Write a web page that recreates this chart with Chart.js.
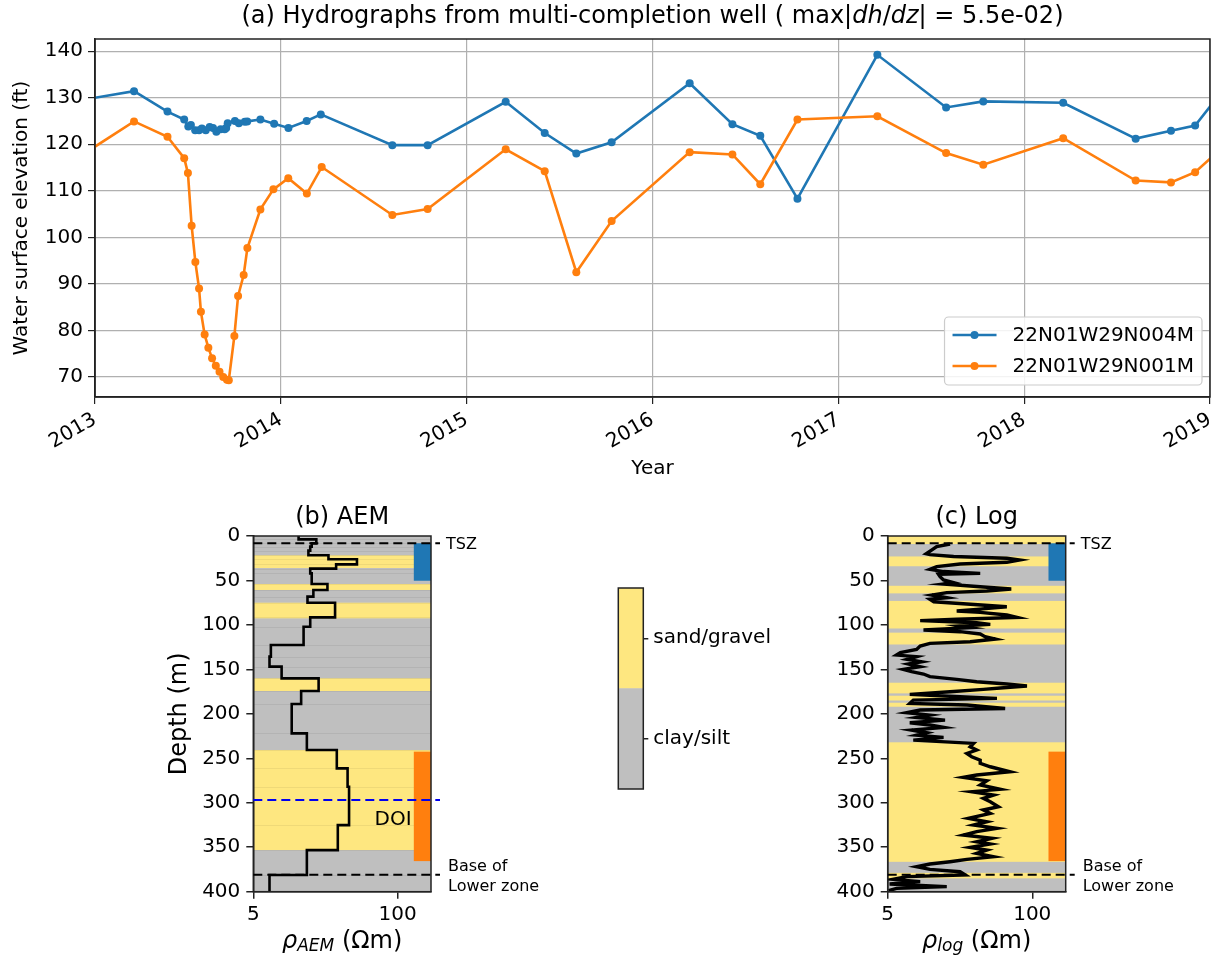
<!DOCTYPE html>
<html lang="en">
<head>
<meta charset="UTF-8">
<title>Hydrographs and well logs</title>
<script src="https://cdn.jsdelivr.net/npm/chart.js"></script>
<style>
    body { margin: 0; background: #fff; }
    .wrap { position: relative; width: 1226px; height: 960px; overflow: hidden; }
    canvas { position: absolute; }
</style>
</head>
<body>
<div class="wrap">
    <canvas id="hydro" width="1226" height="500" style="left:0;top:0"></canvas>
    <canvas id="aem" width="420" height="460" style="left:150px;top:500px"></canvas>
    <canvas id="legendBar" width="240" height="260" style="left:560px;top:560px"></canvas>
    <canvas id="welllog" width="436" height="460" style="left:790px;top:500px"></canvas>
</div>

<script>
    // ---- (a) hydrographs ----
    var seriesNames = ['22N01W29N004M', '22N01W29N001M'];
    var yearTicks = [2013, 2014, 2015, 2016, 2017, 2018, 2019];
    var levelTicks = [70, 80, 90, 100, 110, 120, 130, 140];

    var blueYears = [2012.9, 2013.21, 2013.39, 2013.48, 2013.502, 2013.516, 2013.539, 2013.56, 2013.575, 2013.596,
        2013.617, 2013.635, 2013.653, 2013.676, 2013.698, 2013.706, 2013.714, 2013.753, 2013.774, 2013.806,
        2013.819, 2013.89, 2013.964, 2014.041, 2014.139, 2014.215, 2014.6, 2014.79, 2015.21, 2015.42,
        2015.59, 2015.78, 2016.2, 2016.43, 2016.58, 2016.78, 2017.21, 2017.58, 2017.78, 2018.21,
        2018.6, 2018.79, 2018.92, 2019.1];
    var blueLevels = [129.3, 131.4, 127.0, 125.3, 123.8, 124.1, 123.0, 123.0, 123.4, 123.0,
        123.7, 123.5, 122.7, 123.2, 123.2, 123.5, 124.5, 125.0, 124.5, 124.8,
        124.9, 125.3, 124.4, 123.5, 125.0, 126.4, 119.8, 119.8, 129.1, 122.4,
        118.0, 120.4, 133.1, 124.3, 121.8, 108.3, 139.2, 127.9, 129.2, 128.9,
        121.2, 122.9, 124.0, 133.2];

    var orangeYears = [2012.9, 2013.21, 2013.39, 2013.48, 2013.50, 2013.52, 2013.54, 2013.56, 2013.57, 2013.59,
        2013.61, 2013.63, 2013.65, 2013.67, 2013.69, 2013.71, 2013.72, 2013.75, 2013.77, 2013.80,
        2013.82, 2013.89, 2013.96, 2014.04, 2014.14, 2014.22, 2014.60, 2014.79, 2015.21, 2015.42,
        2015.59, 2015.78, 2016.20, 2016.43, 2016.58, 2016.78, 2017.21, 2017.58, 2017.78, 2018.21,
        2018.60, 2018.79, 2018.92, 2019.1];
    var orangeLevels = [116.9, 124.9, 121.6, 117.0, 113.8, 102.5, 94.7, 89.0, 84.0, 79.1,
        76.3, 74.0, 72.4, 71.1, 70.0, 69.4, 69.3, 78.8, 87.4, 91.9,
        97.7, 106.0, 110.3, 112.7, 109.4, 115.1, 104.8, 106.1, 118.9, 114.2,
        92.5, 103.5, 118.3, 117.8, 111.4, 125.3, 126.0, 118.1, 115.6, 121.3,
        112.2, 111.8, 114.0, 120.5];

    // ---- (b) AEM resistivity model ----
    var aemLayerTop = [0, 3.75, 8.25, 12, 16.5, 21.7, 26.2, 31.9, 36.7, 42, 54, 60.7, 68.2, 75, 91.5,
        102, 122.6, 135.7, 146.9, 160.1, 174.3, 189, 222, 240.7, 261.3, 281.9, 325.1, 353.2, 381.3];
    var aemRho = [12.8, 18.5, 16.8, 16.3, 15.7, 23.8, 43, 27.9, 16.3, 16.8, 23.3, 17.4, 15.4, 27.3, 16.3,
        14.2, 7.2, 7.0, 9.0, 19.4, 13.5, 11.1, 15.2, 28.3, 35.4, 36.5, 28.9, 15.2, 7.0];
    var aemSandTop = [21.7, 54, 75, 160, 240.7];
    var aemSandBottom = [36, 60.7, 92.6, 174.3, 353.2];

    // ---- (c) resistivity log ----
    var logDepth = [9, 12, 15.7, 20, 21, 23, 25, 27, 29.6, 31.5, 34.5, 37.5, 40, 42, 43, 45.7, 49.5, 52.5, 54, 57,
        59.6, 61.9, 63.7, 66.4, 69.4, 71.2, 73.9, 76.5, 79.5, 82.5, 84.4, 85.9, 88.9, 91.5, 93.7, 95.2, 97.5, 99.4,
        101.2, 103.1, 105.7, 107.6, 110.2, 113.2, 115.9, 118.9, 120.7, 123.7, 127.5, 131.2, 133.9, 135.7, 138.7,
        141.4, 144, 147, 150, 152.6, 155.2, 158.2, 161.2, 163.9, 166.5, 168.7, 171, 172.5, 175.1, 178.1, 180.7,
        182.6, 184.5, 188.2, 190.1, 193.9, 195.7, 198.7, 201.4, 204, 207, 210, 212.6, 215.2, 218.2, 221.2, 223.9,
        226.5, 229.5, 233.2, 237, 240.7, 244.5, 248.2, 252, 255.7, 259.5, 265.1, 268.8, 271.4, 275.2, 280, 284.9,
        287.5, 291.3, 295, 298.8, 304.4, 308.1, 311.9, 317.5, 321.3, 325, 328.8, 332.5, 336.3, 340, 343.8, 346.4,
        350.2, 353.2, 356.9, 360.7, 363.7, 366.3, 368.9, 371.9, 374.9, 377.5, 381.3, 383.1, 386.1, 388.7, 391.3,
        394.3, 396.2, 398.8];
    var logRho = [18.2, 13.8, 12.5, 11.1, 12.0, 19.6, 59, 76.9, 59, 22.4, 13.8, 12.0, 15.9, 34, 14.3, 14.8, 15.9, 19.6, 15.9, 34,
        64.7, 39, 17.0, 12.5, 17.0, 12.0, 13.0, 25.8, 59, 31.6, 20.9, 34, 59, 72.6, 20.9, 9.8, 31.6, 41.9,
        22.4, 27.6, 10.5, 22.4, 34, 37.6, 46.6, 27.6, 12.0, 9.8, 9.1, 6.5, 6.0, 9.1, 7.5,
        10.1, 7.7, 9.8, 6.9, 8.2, 10.5, 12.0, 20.9, 31.6, 59, 89.6, 51.5, 36.3, 18.2, 7.9, 22.4,
        48.1, 8.5, 7.9, 25.8, 57, 9.8, 7.4, 12.0, 9.1, 16.4, 7.9, 12.0, 15.9, 8.2, 11.2, 9.1,
        15.9, 8.5, 29.6, 27.6, 31.6, 25.8, 28.5, 34, 34, 41.9, 63, 31.6, 24.0, 39, 34, 51.5,
        28.5, 44.9, 36.3, 41.9, 49.6, 36.3, 41.9, 26.6, 39, 29.6, 48.1, 31.6, 24.0, 43.3, 31.6, 41.9,
        27.6, 39, 31.6, 44.9, 25.8, 18.2, 12.0, 9.1, 12.0, 22.4, 25.0, 7.4, 5.6, 9.8, 5.2,
        17.0, 6.0, 5.1];
    var logSandTop = [0, 23, 56, 73, 108.7, 165, 179.6, 187.5, 232, 378.8];
    var logSandBottom = [9, 34, 64.5, 104, 122, 177, 185, 192, 366.4, 385];

    // shared depth markers and screened intervals
    var depthTicks = [0, 50, 100, 150, 200, 250, 300, 350, 400];
    var rhoTicks = [5, 100];
    var screenTop = [8.2, 242.5];
    var screenBottom = [50.3, 365.6];
    var tszDepth = 8.2;
    var baseDepth = 381;
    var doiDepth = 297;
    var colorbarLabels = ['clay/silt', 'sand/gravel'];

    var FONT = '"DejaVu Sans", "Liberation Sans", sans-serif';
    var BLUE = '#1f77b4', ORANGE = '#ff7f0e';
    var SAND = 'rgb(254,231,128)', CLAY = 'rgb(191,191,191)';

    // draws a run of text pieces (for italics / subscripts) centred on x
    function drawRich(ctx, parts, x, y, align) {
        var total = 0;
        parts.forEach(function (p) {
            ctx.font = (p.i ? 'italic ' : '') + p.s + 'px ' + FONT;
            p.w = ctx.measureText(p.t).width;
            total += p.w;
        });
        var cx = align === 'left' ? x : x - total / 2;
        ctx.textAlign = 'left';
        ctx.textBaseline = 'middle';
        parts.forEach(function (p) {
            ctx.font = (p.i ? 'italic ' : '') + p.s + 'px ' + FONT;
            ctx.fillText(p.t, cx, y + (p.dy || 0));
            cx += p.w;
        });
    }

    function frame(chart, width) {
        var a = chart.chartArea, ctx = chart.ctx;
        ctx.save();
        ctx.strokeStyle = '#222';
        ctx.lineWidth = width;
        ctx.strokeRect(a.left, a.top, a.right - a.left, a.bottom - a.top);
        ctx.restore();
    }

    function toPoints(xs, ys) {
        return xs.map(function (x, i) { return { x: x, y: ys[i] }; });
    }

    Chart.defaults.font.family = FONT;
    Chart.defaults.color = '#000';

    // ---------- (a) ----------
    const hydroPlugin = {
        id: 'hydroExtras',
        afterDraw(chart) {
            var ctx = chart.ctx, a = chart.chartArea;
            frame(chart, 1.5);
            ctx.save();
            ctx.fillStyle = '#000';
            drawRich(ctx, [
                { t: '(a) Hydrographs from multi-completion well ( max|', s: 24 },
                { t: 'dh', s: 24, i: true }, { t: '/', s: 24 }, { t: 'dz', s: 24, i: true },
                { t: '| = 5.5e-02)', s: 24 }
            ], (a.left + a.right) / 2, 17);

            // legend box, lower right
            ctx.font = '20px ' + FONT;
            var tw = Math.max.apply(null, seriesNames.map(function (n) { return ctx.measureText(n).width; }));
            var bw = 8 + 44 + 16 + tw + 8, bh = 68;
            var bx = a.right - 8 - bw, by = a.bottom - 12 - bh;
            ctx.fillStyle = 'rgba(255,255,255,0.85)';
            ctx.strokeStyle = '#cccccc';
            ctx.lineWidth = 1.2;
            ctx.beginPath();
            ctx.roundRect(bx, by, bw, bh, 4);
            ctx.fill();
            ctx.stroke();
            var cols = [BLUE, ORANGE];
            seriesNames.forEach(function (name, i) {
                var ly = by + 18 + i * 31;
                ctx.strokeStyle = cols[i];
                ctx.lineWidth = 2.6;
                ctx.beginPath();
                ctx.moveTo(bx + 8, ly);
                ctx.lineTo(bx + 52, ly);
                ctx.stroke();
                ctx.fillStyle = cols[i];
                ctx.beginPath();
                ctx.arc(bx + 30, ly, 4, 0, Math.PI * 2);
                ctx.fill();
                ctx.fillStyle = '#000';
                ctx.textAlign = 'left';
                ctx.textBaseline = 'middle';
                ctx.font = '20px ' + FONT;
                ctx.fillText(name, bx + 68, ly + 1);
            });
            ctx.restore();
        }
    };

    new Chart(document.getElementById('hydro'), {
        type: 'scatter',
        data: {
            datasets: [{
                label: seriesNames[0],
                data: toPoints(blueYears, blueLevels),
                showLine: true,
                borderColor: BLUE,
                backgroundColor: BLUE,
                borderWidth: 2.6,
                pointRadius: 4,
                pointBorderWidth: 0,
                order: 1
            }, {
                label: seriesNames[1],
                data: toPoints(orangeYears, orangeLevels),
                showLine: true,
                borderColor: ORANGE,
                backgroundColor: ORANGE,
                borderWidth: 2.6,
                pointRadius: 4,
                pointBorderWidth: 0,
                order: 0
            }]
        },
        options: {
            responsive: false,
            animation: false,
            layout: { padding: { top: 39, right: 5, bottom: 19, left: 0 } },
            plugins: { legend: { display: false }, tooltip: { enabled: false } },
            scales: {
                x: {
                    type: 'linear',
                    min: 2013,
                    max: 2019,
                    afterBuildTicks: function (s) { s.ticks = yearTicks.map(function (v) { return { value: v }; }); },
                    afterFit: function (s) { s.height = 84; },
                    ticks: {
                        minRotation: 30, maxRotation: 30, padding: 4,
                        font: { size: 20 },
                        callback: function (v) { return String(v); }
                    },
                    grid: { color: '#b0b0b0', lineWidth: 1.2, tickLength: 7, tickColor: '#222' },
                    border: { color: '#222', width: 1.5 },
                    title: { display: true, text: 'Year', font: { size: 20 }, padding: { top: 0, bottom: 0 } }
                },
                y: {
                    min: 65.7,
                    max: 142.6,
                    afterBuildTicks: function (s) { s.ticks = levelTicks.map(function (v) { return { value: v }; }); },
                    afterFit: function (s) { s.width = 95; },
                    ticks: { padding: 5, font: { size: 20 } },
                    grid: { color: '#b0b0b0', lineWidth: 1.2, tickLength: 7, tickColor: '#222' },
                    border: { color: '#222', width: 1.5 },
                    title: { display: true, text: 'Water surface elevation (ft)', font: { size: 20 }, padding: { top: 10, bottom: 0 } }
                }
            }
        },
        plugins: [hydroPlugin]
    });

    // ---------- (b) and (c) ----------
    const wellPlugin = {
        id: 'wellExtras',
        beforeDraw(chart, args, o) {
            var ctx = chart.ctx, a = chart.chartArea;
            var xs = chart.scales.x, ys = chart.scales.y;
            ctx.save();
            ctx.fillStyle = CLAY;
            ctx.fillRect(a.left, a.top, a.right - a.left, a.bottom - a.top);
            ctx.fillStyle = SAND;
            o.sandTop.forEach(function (t, i) {
                var y0 = ys.getPixelForValue(t), y1 = ys.getPixelForValue(o.sandBottom[i]);
                ctx.fillRect(a.left, y0, a.right - a.left, y1 - y0);
            });
            // faint seams between model layers
            if (o.seams) {
                ctx.strokeStyle = 'rgba(0,0,0,0.06)';
                ctx.lineWidth = 1;
                o.seams.forEach(function (d) {
                    var y = Math.round(ys.getPixelForValue(d)) + 0.5;
                    ctx.beginPath();
                    ctx.moveTo(a.left, y);
                    ctx.lineTo(a.right, y);
                    ctx.stroke();
                });
            }
            [BLUE, ORANGE].forEach(function (c, i) {
                var y0 = ys.getPixelForValue(screenTop[i]), y1 = ys.getPixelForValue(screenBottom[i]);
                var x0 = xs.getPixelForValue(140);
                ctx.fillStyle = c;
                ctx.fillRect(x0, y0, a.right - x0, y1 - y0);
            });
            ctx.restore();
        },
        afterDraw(chart, args, o) {
            var ctx = chart.ctx, a = chart.chartArea;
            var xs = chart.scales.x, ys = chart.scales.y;
            frame(chart, 1.5);
            ctx.save();
            function dashed(depth, color) {
                var y = ys.getPixelForValue(depth);
                ctx.strokeStyle = color;
                ctx.lineWidth = 2;
                ctx.setLineDash([9, 5]);
                ctx.beginPath();
                ctx.moveTo(a.left, y);
                ctx.lineTo(a.right + 9, y);
                ctx.stroke();
                return y;
            }
            var yT = dashed(tszDepth, '#000');
            var yB = dashed(baseDepth, '#000');
            ctx.setLineDash([]);
            ctx.fillStyle = '#000';
            drawRich(ctx, [{ t: 'TSZ', s: 16 }], a.right + 15, yT + 2, 'left');
            drawRich(ctx, [{ t: 'Base of', s: 16 }], a.right + 17, yB - 8, 'left');
            drawRich(ctx, [{ t: 'Lower zone', s: 16 }], a.right + 17, yB + 12, 'left');
            if (o.doi) {
                var yD = ys.getPixelForValue(doiDepth);
                ctx.strokeStyle = '#0000ee';
                ctx.lineWidth = 2;
                ctx.setLineDash([9, 5]);
                ctx.beginPath();
                ctx.moveTo(a.left, yD);
                ctx.lineTo(a.right + 9, yD);
                ctx.stroke();
                ctx.setLineDash([]);
                drawRich(ctx, [{ t: 'DOI', s: 20 }], xs.getPixelForValue(62), ys.getPixelForValue(319.5), 'left');
            }
            var cx = (a.left + a.right) / 2;
            drawRich(ctx, [{ t: o.title, s: 24 }], cx, a.top - 18);
            drawRich(ctx, [
                { t: 'ρ', s: 24, i: true },
                { t: o.sub, s: 17, i: true, dy: 5 },
                { t: ' (Ωm)', s: 24 }
            ], cx, a.bottom + 50);
            ctx.restore();
        }
    };

    function wellChart(id, data, lineWidth, yAxisWidth, padRight, opts, yTitle) {
        return new Chart(document.getElementById(id), {
            type: 'scatter',
            data: {
                datasets: [{
                    data: data,
                    showLine: true,
                    borderColor: '#000',
                    borderWidth: lineWidth,
                    pointRadius: 0,
                    tension: 0
                }]
            },
            options: {
                responsive: false,
                animation: false,
                layout: { padding: { top: 36, right: padRight, bottom: 18.3, left: 0 } },
                plugins: { legend: { display: false }, tooltip: { enabled: false }, wellExtras: opts },
                scales: {
                    x: {
                        type: 'logarithmic',
                        min: 5,
                        max: 200,
                        afterBuildTicks: function (s) { s.ticks = rhoTicks.map(function (v) { return { value: v }; }); },
                        afterFit: function (s) { s.height = 50; },
                        ticks: { padding: 4, maxRotation: 0, font: { size: 20 }, callback: function (v) { return String(v); } },
                        grid: { drawOnChartArea: false, tickLength: 7, tickColor: '#222', lineWidth: 1.5 },
                        border: { color: '#222', width: 1.5 }
                    },
                    y: {
                        reverse: true,
                        min: 0,
                        max: 400,
                        afterBuildTicks: function (s) { s.ticks = depthTicks.map(function (v) { return { value: v }; }); },
                        afterFit: function (s) { s.width = yAxisWidth; },
                        ticks: { padding: 6, font: { size: 20 } },
                        grid: { drawOnChartArea: false, tickLength: 7, tickColor: '#222', lineWidth: 1.5 },
                        border: { color: '#222', width: 1.5 },
                        title: { display: !!yTitle, text: yTitle || '', font: { size: 24 }, padding: { top: 15.6, bottom: 0 } }
                    }
                }
            },
            plugins: [wellPlugin]
        });
    }

    // AEM model drawn as a staircase: each layer spans its top to the next layer's top
    var aemSteps = [];
    aemLayerTop.forEach(function (t, i) {
        var bottom = i + 1 < aemLayerTop.length ? aemLayerTop[i + 1] : 400;
        aemSteps.push({ x: aemRho[i], y: t });
        aemSteps.push({ x: aemRho[i], y: bottom });
    });

    wellChart('aem', aemSteps, 2.6, 103.3, 139,
        { sandTop: aemSandTop, sandBottom: aemSandBottom, seams: aemLayerTop.slice(1), doi: true, title: '(b) AEM', sub: 'AEM' }, 'Depth (m)');
    wellChart('welllog', toPoints(logRho, logDepth), 3.4, 97.7, 160.3,
        { sandTop: logSandTop, sandBottom: logSandBottom, doi: false, title: '(c) Log', sub: 'log' }, null);

    // ---------- lithology colour key ----------
    new Chart(document.getElementById('legendBar'), {
        type: 'bar',
        data: {
            labels: [''],
            datasets: [
                { label: colorbarLabels[0], data: [1], backgroundColor: CLAY, barPercentage: 1, categoryPercentage: 1 },
                { label: colorbarLabels[1], data: [1], backgroundColor: SAND, barPercentage: 1, categoryPercentage: 1 }
            ]
        },
        options: {
            responsive: false,
            animation: false,
            layout: { padding: { top: 28, right: 0, bottom: 31, left: 58.3 } },
            plugins: { legend: { display: false }, tooltip: { enabled: false } },
            scales: {
                x: { stacked: true, display: false },
                y: {
                    stacked: true,
                    position: 'right',
                    min: 0,
                    max: 2,
                    afterBuildTicks: function (s) { s.ticks = [{ value: 0.5 }, { value: 1.5 }]; },
                    afterFit: function (s) { s.width = 156.7; },
                    ticks: { padding: 5, font: { size: 20 }, callback: function (v) { return colorbarLabels[Math.floor(v)]; } },
                    grid: { drawOnChartArea: false, tickLength: 5, tickColor: '#222', lineWidth: 1.5 },
                    border: { display: false }
                }
            }
        },
        plugins: [{ id: 'cbFrame', afterDraw: function (chart) { frame(chart, 1.5); } }]
    });
</script>
</body>
</html>
